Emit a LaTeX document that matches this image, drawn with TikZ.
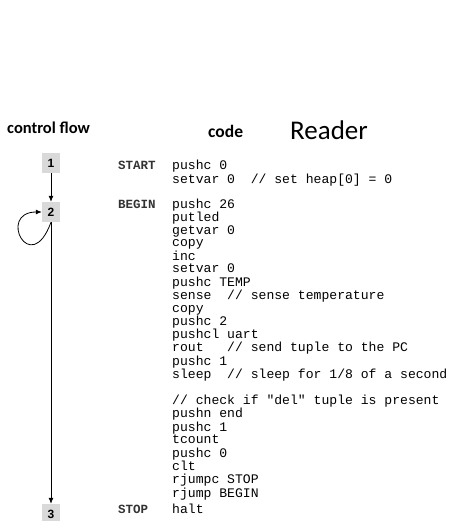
\documentclass[tikz,border=0pt]{standalone}
\usepackage{fontspec}
\setmainfont{Carlito}
\setmonofont{Liberation Mono}
\newfontfamily\numfont{Liberation Sans}
\usetikzlibrary{arrows.meta}

\begin{document}
\begin{tikzpicture}[
		x=1pt, y=-1pt,
		numbox/.style={fill=gray!30, minimum width=18pt, minimum height=20pt, inner sep=0,
			font=\numfont\bfseries\fontsize{12}{12}\selectfont},
		heading/.style={anchor=base west, inner sep=0, font=\bfseries\fontsize{16.5}{18}\selectfont},
		blocklabel/.style={anchor=base west, inner sep=0, text=black!80,
			font=\ttfamily\bfseries\fontsize{12.5}{12.7}\selectfont},
		codetext/.style={anchor=base west, inner sep=0, font=\ttfamily\fontsize{13.1}{12.7}\selectfont},
		flow/.style={-{Latex[length=6pt,width=5pt]}, line width=0.8pt},
	]
	\useasboundingbox (0,0) rectangle (450,521);
	\node[heading] (cfhead) at (7,134) {control flow};
	\node[heading, font=\bfseries\fontsize{17.5}{18}\selectfont] (codehead) at (208,138) {code};
	\node[anchor=base west, inner sep=0, font=\fontsize{27}{28}\selectfont] (title) at (290,140) {Reader};
	\node[numbox] (n1) at (51,163) {1};
	\node[numbox] (n2) at (51,212) {2};
	\node[numbox] (n3) at (51,514) {3};
	\draw[flow] (n1) -- (n2);
	\draw[flow] (n2) -- (n3);
	\draw[flow] (n2.south) .. controls +(110:60) and +(180:45) .. (n2.west);
	\node[blocklabel] (startlbl) at (118,170) {START};
	\node[blocklabel] (beginlbl) at (118,208) {BEGIN};
	\node[blocklabel] (stoplbl) at (118,513) {STOP};
	\node[codetext] (startcode) at (172,170) {\begin{tabular}[t]{@{}l@{}}
			pushc 0\\
			setvar 0\ \ // set heap[0] = 0
		\end{tabular}};
	\node[codetext] (begincode) at (172,208) {\begin{tabular}[t]{@{}l@{}}
			pushc 26\\
			putled\\
			getvar 0\\
			copy\\
			inc\\
			setvar 0\\
			pushc TEMP\\
			sense\ \ // sense temperature\\
			copy\\
			pushc 2\\
			pushcl uart\\
			rout\ \ \ // send tuple to the PC\\
			pushc 1\\
			sleep\ \ // sleep for 1/8 of a second\\
			\\
			// check if "del" tuple is present\\
			pushn end\\
			pushc 1\\
			tcount\\
			pushc 0\\
			clt\\
			rjumpc STOP\\
			rjump BEGIN
		\end{tabular}};
	\node[codetext] (stopcode) at (172,513) {halt};
\end{tikzpicture}
\end{document}
